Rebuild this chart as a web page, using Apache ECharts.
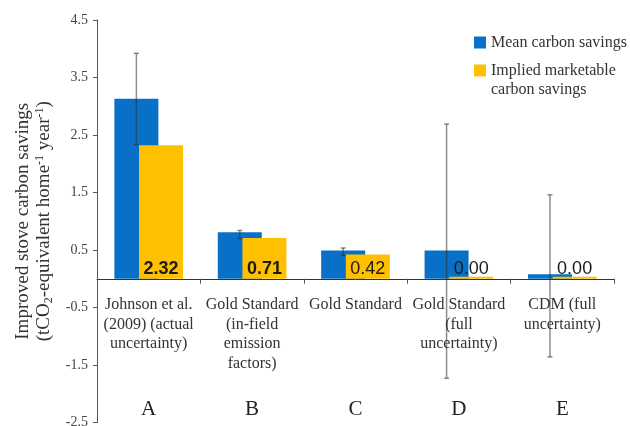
<!DOCTYPE html>
<html>
<head>
<meta charset="utf-8">
<script src="https://cdn.jsdelivr.net/npm/echarts@6/dist/echarts.min.js"></script>
<style>html,body{margin:0;padding:0;background:#fff}#chart{width:630px;height:426px}</style>
</head>
<body>
<div id="chart"></div>
<script>
const categories = ['Johnson et al.\n(2009) (actual\nuncertainty)', 'Gold Standard\n(in-field\nemission\nfactors)', 'Gold Standard', 'Gold Standard\n(full\nuncertainty)', 'CDM (full\nuncertainty)'];
const letters = ['A', 'B', 'C', 'D', 'E'];
const meanSavings = [3.13, 0.81, 0.49, 0.49, 0.08];
const marketableSavings = [2.32, 0.71, 0.42, 0.00, 0.00];
const errLow = [2.33, 0.70, 0.41, -1.73, -1.36];
const errHigh = [3.92, 0.84, 0.535, 2.69, 1.46];
const yTicks = [-2.5, -1.5, -0.5, 0.5, 1.5, 2.5, 3.5, 4.5];

const BLUE = '#0870C6', YELLOW = '#FFC000';
const barWidth = 44, barGap = -0.44;
const blueOffset = -(barWidth * (1 + barGap)) / 2;
const serif = '"Liberation Serif", "DejaVu Serif", serif';
const sans = '"Liberation Sans", Arial, sans-serif';
const yMin = -2.5, yMax = 4.5, gridTop = 20, gridBottomPx = 422.5;
const zeroY = gridTop + (yMax - 0) / (yMax - yMin) * (gridBottomPx - gridTop);

const chart = echarts.init(document.getElementById('chart'));
chart.setOption({
  animation: false,
  grid: [
    { left: 97, right: 16, top: gridTop, bottom: 426 - gridBottomPx, outerBoundsMode: 'none' },
    { left: 97, right: 16, top: zeroY - 1, height: 1, outerBoundsMode: 'none' },
    { left: 97, right: 16, top: 398, height: 1, outerBoundsMode: 'none' }
  ],
  legend: [
    { data: [{ name: 'Mean carbon savings' }], left: 474, top: 33, padding: 0, orient: 'vertical',
      icon: 'rect', itemWidth: 12, itemHeight: 12,
      textStyle: { fontFamily: serif, fontSize: 16, color: '#333', lineHeight: 19 } },
    { data: [{ name: 'Implied marketable\ncarbon savings' }], left: 474, top: 42, padding: 0, orient: 'vertical',
      icon: 'rect', itemWidth: 12, itemHeight: 12,
      formatter: n => '\n' + n,
      textStyle: { fontFamily: serif, fontSize: 16, color: '#333', lineHeight: 19 } }
  ],
  xAxis: [
    { type: 'category', data: categories, gridIndex: 0,
      axisLine: { onZero: true, lineStyle: { color: '#333', width: 1 } },
      axisTick: { show: true, length: 5, lineStyle: { color: '#555' } },
      axisLabel: { show: false } },
    { type: 'category', data: categories, gridIndex: 1, position: 'bottom',
      axisLine: { show: false }, axisTick: { show: false },
      axisLabel: { show: true, interval: 0, margin: 16, fontFamily: serif, fontSize: 16, lineHeight: 19.7, color: '#333' } },
    { type: 'category', data: letters, gridIndex: 2, position: 'bottom',
      axisLine: { show: false }, axisTick: { show: false },
      axisLabel: { interval: 0, margin: 0, fontFamily: serif, fontSize: 21, color: '#222' } }
  ],
  yAxis: [
    { type: 'value', min: yMin, max: yMax, gridIndex: 0,
      splitLine: { show: false },
      axisLine: { show: true, lineStyle: { color: '#555' } },
      axisTick: { show: true, length: 4, customValues: yTicks, lineStyle: { color: '#555' } },
      axisLabel: { customValues: yTicks, margin: 9, fontFamily: serif, fontSize: 14, color: '#444',
        formatter: v => v.toFixed(1) },
      name: '{a|Improved stove carbon savings}\n{a|(tCO}{sub|2}{a|-equivalent home}{sup|-1}{a| year}{sup|-1}{a|)}',
      nameLocation: 'middle', nameRotate: 90, nameGap: 41,
      nameTextStyle: {
        color: '#333', fontFamily: serif, fontSize: 19, lineHeight: 21,
        rich: {
          a: { fontFamily: serif, fontSize: 19, lineHeight: 21, color: '#333' },
          sub: { fontFamily: serif, fontSize: 12, lineHeight: 12, verticalAlign: 'bottom', color: '#333' },
          sup: { fontFamily: serif, fontSize: 12, lineHeight: 12, verticalAlign: 'top', color: '#333' }
        }
      } },
    { type: 'value', gridIndex: 1, show: false, min: 0, max: 1 },
    { type: 'value', gridIndex: 2, show: false, min: 0, max: 1 }
  ],
  series: [
    { name: 'Mean carbon savings', type: 'bar', data: meanSavings, barWidth: barWidth, barGap: (barGap * 100) + '%',
      itemStyle: { color: BLUE } },
    { name: 'Implied marketable\ncarbon savings', type: 'bar', barWidth: barWidth, barMinHeight: 2,
      data: marketableSavings.map((v, i) => ({ value: v, label: { fontWeight: i < 2 ? 'bold' : 'normal' } })),
      itemStyle: { color: YELLOW },
      label: { show: true, position: 'insideBottom', distance: 1, fontFamily: sans, fontSize: 18, color: '#1a1a1a',
        formatter: p => p.value.toFixed(2) } },
    { type: 'custom', name: 'err', z: 5,
      data: errLow.map((lo, i) => [i, lo, errHigh[i]]),
      encode: { x: 0, y: [1, 2] },
      renderItem: function (params, api) {
        const i = api.value(0);
        const p1 = api.coord([i, api.value(1)]);
        const p2 = api.coord([i, api.value(2)]);
        const x = p1[0] + blueOffset;
        const c = 2.5;
        const style = { stroke: 'rgba(50,50,50,0.55)', lineWidth: 1.5 };
        return { type: 'group', children: [
          { type: 'line', shape: { x1: x, y1: p1[1], x2: x, y2: p2[1] }, style: style },
          { type: 'line', shape: { x1: x - c, y1: p1[1], x2: x + c, y2: p1[1] }, style: style },
          { type: 'line', shape: { x1: x - c, y1: p2[1], x2: x + c, y2: p2[1] }, style: style }
        ] };
      }
    }
  ]
});
</script>
</body>
</html>
